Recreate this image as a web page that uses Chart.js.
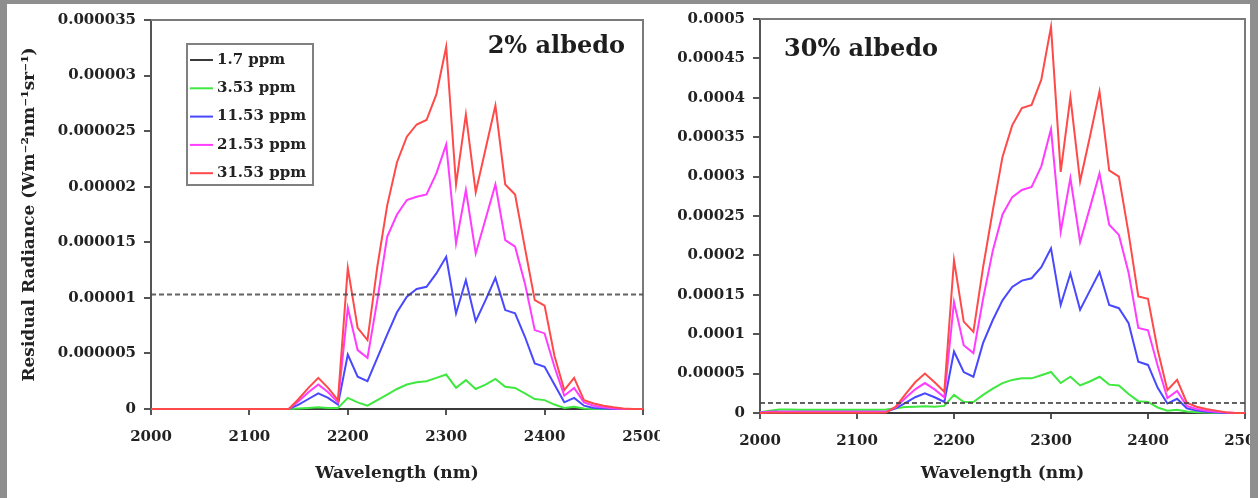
<!DOCTYPE html>
<html lang="en">
<head>
    <meta charset="UTF-8">
    <title>Residual Radiance</title>
    <script src="https://cdn.jsdelivr.net/npm/chart.js"></script>
    <style>
        html, body {
            margin: 0;
            padding: 0;
        }
        body {
            width: 1258px;
            height: 498px;
            background: #8e8e8e;
            position: relative;
            overflow: hidden;
        }
        #sheet {
            position: absolute;
            left: 7px;
            top: 4px;
            width: 1243px;
            height: 494px;
            background: #fff;
        }
        canvas {
            position: absolute;
            top: 5px;
            background: #fff;
        }
        #leftChart { left: 8px; }
        #rightChart { left: 660px; }
    </style>
</head>
<body>
    <div id="sheet"></div>
    <canvas id="leftChart" width="652" height="493"></canvas>
    <canvas id="rightChart" width="590" height="493"></canvas>

    <script>
        // wavelength grid (nm)
        const wavelength = [
            2000, 2010, 2020, 2030, 2040, 2050, 2060, 2070, 2080, 2090,
            2100, 2110, 2120, 2130, 2140, 2150, 2160, 2170, 2180, 2190,
            2200, 2210, 2220, 2230, 2240, 2250, 2260, 2270, 2280, 2290,
            2300, 2310, 2320, 2330, 2340, 2350, 2360, 2370, 2380, 2390,
            2400, 2410, 2420, 2430, 2440, 2450, 2460, 2470, 2480, 2490,
            2500
        ];

        const seriesLabels = ['1.7 ppm', '3.53 ppm', '11.53 ppm', '21.53 ppm', '31.53 ppm'];
        const seriesColors = ['#3a3a3a', '#3fe83f', '#4848ff', '#ff3cff', '#ff4a4a'];

        // 2% albedo panel, values in 1e-6 W m-2 nm-1 sr-1
        const leftUnit = 1e-6;
        const left17 = [
            0, 0, 0, 0, 0, 0, 0, 0, 0, 0,
            0, 0, 0, 0, 0, 0, 0, 0, 0, 0,
            0, 0, 0, 0, 0, 0, 0, 0, 0, 0,
            0, 0, 0, 0, 0, 0, 0, 0, 0, 0,
            0, 0, 0, 0, 0, 0, 0, 0, 0, 0,
            0
        ];
        const left353 = [
            0, 0, 0, 0, 0, 0, 0, 0, 0, 0,
            0, 0, 0, 0, 0, 0.05, 0.1, 0.15, 0.1, 0.1,
            1.0, 0.6, 0.3, 0.8, 1.3, 1.8, 2.2, 2.4, 2.5, 2.8,
            3.1, 1.9, 2.6, 1.8, 2.2, 2.7, 2.0, 1.9, 1.4, 0.9,
            0.8, 0.4, 0.1, 0.2, 0.05, 0, 0, 0, 0, 0,
            0
        ];
        const left1153 = [
            0, 0, 0, 0, 0, 0, 0, 0, 0, 0,
            0, 0, 0, 0, 0, 0.4, 0.9, 1.4, 1.0, 0.4,
            4.9, 2.9, 2.5, 4.6, 6.7, 8.7, 10.1, 10.8, 11.0, 12.2,
            13.7, 8.6, 11.6, 7.9, 9.8, 11.8, 8.9, 8.6, 6.5, 4.1,
            3.8, 2.2, 0.6, 1.0, 0.3, 0.1, 0.05, 0, 0, 0,
            0
        ];
        const left2153 = [
            0, 0, 0, 0, 0, 0, 0, 0, 0, 0,
            0, 0, 0, 0, 0, 0.7, 1.5, 2.2, 1.5, 0.6,
            9.1, 5.3, 4.6, 9.8, 15.5, 17.5, 18.8, 19.1, 19.3, 21.2,
            23.8, 14.9, 19.7, 14.0, 17.1, 20.2, 15.2, 14.6, 11.3, 7.1,
            6.8, 3.8, 1.2, 1.9, 0.6, 0.3, 0.15, 0.05, 0, 0,
            0
        ];
        const left3153 = [
            0, 0, 0, 0, 0, 0, 0, 0, 0, 0,
            0, 0, 0, 0, 0, 0.9, 1.9, 2.8, 1.9, 0.8,
            12.7, 7.3, 6.2, 12.8, 18.3, 22.2, 24.5, 25.6, 26.0, 28.3,
            32.6, 20.2, 26.5, 19.5, 23.4, 27.3, 20.2, 19.3, 14.5, 9.8,
            9.3, 4.8, 1.7, 2.8, 0.8, 0.5, 0.3, 0.15, 0.05, 0,
            0
        ];
        const leftThreshold = 10.3;
        const leftYTicks = { max: 35, step: 5 };

        // 30% albedo panel, values in 1e-5 W m-2 nm-1 sr-1
        const rightUnit = 1e-5;
        const right17 = [
            0, 0, 0, 0, 0, 0, 0, 0, 0, 0,
            0, 0, 0, 0, 0, 0, 0, 0, 0, 0,
            0, 0, 0, 0, 0, 0, 0, 0, 0, 0,
            0, 0, 0, 0, 0, 0, 0, 0, 0, 0,
            0, 0, 0, 0, 0, 0, 0, 0, 0, 0,
            0
        ];
        const right353 = [
            0.1, 0.3, 0.45, 0.45, 0.4, 0.4, 0.4, 0.4, 0.4, 0.4,
            0.4, 0.4, 0.4, 0.45, 0.6, 0.75, 0.8, 0.85, 0.8, 0.9,
            2.3, 1.4, 1.4, 2.3, 3.1, 3.8, 4.2, 4.4, 4.4, 4.8,
            5.2, 3.8, 4.6, 3.5, 4.0, 4.6, 3.6, 3.5, 2.4, 1.5,
            1.4, 0.7, 0.3, 0.4, 0.2, 0.1, 0.05, 0, 0, 0,
            0
        ];
        const right1153 = [
            0.05, 0.15, 0.15, 0.15, 0.15, 0.15, 0.15, 0.15, 0.15, 0.15,
            0.15, 0.15, 0.15, 0.15, 0.6, 1.3, 2.0, 2.5, 2.0, 1.4,
            7.8, 5.2, 4.6, 8.9, 11.8, 14.3, 16.0, 16.8, 17.1, 18.5,
            20.9, 13.7, 17.7, 13.1, 15.5, 17.9, 13.7, 13.3, 11.4, 6.5,
            6.1, 3.2, 1.2, 1.8, 0.6, 0.3, 0.15, 0.05, 0, 0,
            0
        ];
        const right2153 = [
            0.05, 0.15, 0.15, 0.15, 0.15, 0.15, 0.15, 0.15, 0.15, 0.15,
            0.15, 0.15, 0.15, 0.15, 0.7, 1.9, 3.0, 3.8, 3.0, 2.0,
            14.1, 8.6, 7.6, 14.5, 20.6, 25.2, 27.4, 28.3, 28.7, 31.3,
            36.0, 23.0, 29.8, 21.7, 26.0, 30.4, 23.9, 22.6, 17.8, 10.8,
            10.5, 6.0, 1.9, 2.8, 0.9, 0.5, 0.3, 0.15, 0.05, 0,
            0
        ];
        const right3153 = [
            0, 0.02, 0.02, 0.02, 0.02, 0.02, 0.02, 0.02, 0.02, 0.02,
            0.02, 0.02, 0.02, 0.05, 0.8, 2.4, 3.9, 5.0, 3.9, 2.7,
            19.4, 11.6, 10.3, 18.5, 25.7, 32.5, 36.5, 38.7, 39.1, 42.3,
            49.0, 30.6, 40.1, 29.4, 35.0, 40.8, 30.8, 30.0, 22.8, 14.8,
            14.5, 8.0, 2.9, 4.2, 1.3, 0.8, 0.5, 0.3, 0.1, 0,
            0
        ];
        const rightThreshold = 1.27;
        const rightYTicks = { max: 50, step: 5 };

        const xTicks = { min: 2000, max: 2500, step: 100 };

        const serif = 'DejaVu Serif';

        // frame, panel label and the boxed legend
        const panelDecor = {
            id: 'panelDecor',
            beforeDatasetsDraw(chart, args, o) {
                const { ctx, chartArea: a } = chart;
                ctx.save();
                ctx.strokeStyle = '#7a7a7a';
                ctx.lineWidth = 2;
                ctx.beginPath();
                ctx.moveTo(a.left, a.top);
                ctx.lineTo(a.right, a.top);
                ctx.lineTo(a.right, a.bottom);
                ctx.stroke();
                ctx.restore();
            },
            afterDraw(chart, args, o) {
                const { ctx, chartArea: a } = chart;
                ctx.save();
                ctx.fillStyle = '#1e1e1e';
                ctx.font = 'bold 24px "' + serif + '"';
                ctx.textAlign = o.labelAlign;
                ctx.textBaseline = 'alphabetic';
                const lx = o.labelAlign === 'right' ? a.right - o.labelDx : a.left + o.labelDx;
                ctx.fillText(o.label, lx, a.top + o.labelDy);

                if (o.showLegend) {
                    const bx = a.left + 36, by = a.top + 24, bw = 126, bh = 141;
                    ctx.fillStyle = '#fff';
                    ctx.fillRect(bx, by, bw, bh);
                    ctx.strokeStyle = '#808080';
                    ctx.lineWidth = 2;
                    ctx.strokeRect(bx, by, bw, bh);
                    ctx.font = 'bold 15px "' + serif + '"';
                    ctx.textAlign = 'left';
                    ctx.textBaseline = 'middle';
                    chart.data.datasets.filter(d => !d.isThreshold).forEach((d, i) => {
                        const y = by + 16 + i * 28.3;
                        ctx.strokeStyle = d.borderColor;
                        ctx.beginPath();
                        ctx.moveTo(bx + 3, y);
                        ctx.lineTo(bx + 26, y);
                        ctx.stroke();
                        ctx.fillStyle = '#222';
                        ctx.fillText(d.label, bx + 30, y);
                    });
                }
                ctx.restore();
            }
        };

        function makePanel(id, p) {
            const series = p.values.map((vals, i) => ({
                label: seriesLabels[i],
                data: wavelength.map((w, k) => ({ x: w, y: vals[k] * p.unit })),
                borderColor: seriesColors[i],
                borderWidth: 2,
                pointRadius: 0,
                clip: 3,
                order: 5 - i
            }));
            series.push({
                label: 'threshold',
                isThreshold: true,
                data: [
                    { x: xTicks.min, y: p.threshold * p.unit },
                    { x: xTicks.max, y: p.threshold * p.unit }
                ],
                borderColor: 'rgba(70, 70, 70, 0.85)',
                borderWidth: 2,
                borderDash: [5, 3],
                pointRadius: 0,
                order: 0
            });

            const tickFont = { family: serif, size: 15, weight: 'bold' };

            return new Chart(document.getElementById(id), {
                type: 'line',
                data: { datasets: series },
                plugins: [panelDecor],
                options: {
                    responsive: false,
                    animation: false,
                    layout: { padding: { left: 0, right: p.padRight, top: p.padTop, bottom: 0 } },
                    scales: {
                        x: {
                            type: 'linear',
                            min: xTicks.min,
                            max: xTicks.max,
                            ticks: {
                                stepSize: xTicks.step,
                                font: tickFont,
                                color: '#222',
                                padding: 13,
                                maxRotation: 0,
                                callback: v => String(v)
                            },
                            grid: { drawOnChartArea: false, tickLength: 6, color: '#555', lineWidth: 2 },
                            border: { display: true, color: '#555', width: 2 },
                            title: {
                                display: true,
                                text: 'Wavelength (nm)',
                                font: { family: serif, size: 17, weight: 'bold' },
                                color: '#222',
                                padding: { top: 0, bottom: 14 }
                            },
                            afterFit: s => {
                                s.height = p.xHeight;
                                s.paddingLeft = 0;
                                s.paddingRight = 0;
                            }
                        },
                        y: {
                            min: 0,
                            max: p.yTicks.max * p.unit,
                            ticks: {
                                stepSize: p.yTicks.step * p.unit,
                                font: tickFont,
                                color: '#222',
                                padding: 8,
                                autoSkip: false,
                                callback: v => v === 0 ? '0' : String(parseFloat(v.toFixed(7)))
                            },
                            grid: { drawOnChartArea: false, tickLength: 7, color: '#555', lineWidth: 2 },
                            border: { display: true, color: '#555', width: 2 },
                            title: {
                                display: p.yTitle !== '',
                                text: p.yTitle,
                                font: { family: serif, size: 17, weight: 'bold' },
                                color: '#222',
                                padding: { top: 11, bottom: 0 }
                            },
                            afterFit: s => {
                                s.width = p.yWidth;
                                s.paddingTop = 0;
                                s.paddingBottom = 0;
                            }
                        }
                    },
                    plugins: {
                        legend: { display: false },
                        tooltip: { enabled: false },
                        panelDecor: p.decor
                    }
                }
            });
        }

        makePanel('leftChart', {
            unit: leftUnit,
            values: [left17, left353, left1153, left2153, left3153],
            threshold: leftThreshold,
            yTicks: leftYTicks,
            yTitle: 'Residual Radiance (Wm\u207B\u00B2nm\u207B\u00B9sr\u207B\u00B9)',
            yWidth: 143,
            xHeight: 89,
            padTop: 15,
            padRight: 17,
            decor: { label: '2% albedo', labelAlign: 'right', labelDx: 18, labelDy: 33, showLegend: true }
        });

        makePanel('rightChart', {
            unit: rightUnit,
            values: [right17, right353, right1153, right2153, right3153],
            threshold: rightThreshold,
            yTicks: rightYTicks,
            yTitle: '',
            yWidth: 100,
            xHeight: 85,
            padTop: 14,
            padRight: 5,
            decor: { label: '30% albedo', labelAlign: 'left', labelDx: 24, labelDy: 37, showLegend: false }
        });
    </script>
</body>
</html>
